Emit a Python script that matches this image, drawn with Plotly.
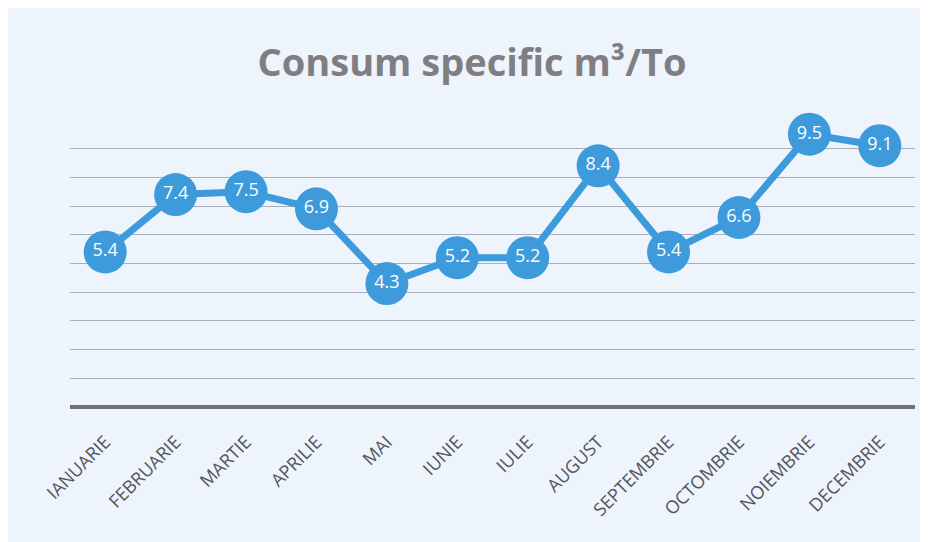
import plotly.graph_objects as go

months = ["IANUARIE", "FEBRUARIE", "MARTIE", "APRILIE", "MAI", "IUNIE", "IULIE",
          "AUGUST", "SEPTEMBRIE", "OCTOMBRIE", "NOIEMBRIE", "DECEMBRIE"]
values = [5.4, 7.4, 7.5, 6.9, 4.3, 5.2, 5.2, 8.4, 5.4, 6.6, 9.5, 9.1]
title_text = "Consum specific m³/To"

blue = "#3D9BDC"
font_fam = "Open Sans, Lato, sans-serif"

fig = go.Figure()
fig.add_trace(go.Scatter(
    x=months, y=values, mode="lines+markers+text",
    line=dict(color=blue, width=7),
    marker=dict(size=43, color=blue, line=dict(width=0)),
    text=[f"{v:.1f}" for v in values],
    textposition="middle center",
    textfont=dict(family=font_fam, size=18, color="white"),
    cliponaxis=False,
    hoverinfo="skip",
))

fig.update_layout(
    width=928, height=542,
    margin=dict(l=62, r=21, t=111, b=143),
    paper_bgcolor="#EEF4FB",
    plot_bgcolor="rgba(0,0,0,0)",
    showlegend=False,
    title=dict(text=title_text, x=0.5, xanchor="center", y=0.90, yanchor="middle",
               font=dict(family=font_fam, size=38, color="#7F7F83", weight="bold")),
    xaxis=dict(
        tickangle=-45, showgrid=False, zeroline=False, showline=False,
        ticks="", ticklen=0, ticklabelstandoff=20,
        tickfont=dict(family=font_fam, size=18, color="#55555B"),
        range=[-0.5, 11.5],
    ),
    yaxis=dict(
        range=[0, 10.03], dtick=1, showticklabels=False, ticks="",
        showgrid=True, gridcolor="#ABADBD", gridwidth=1.3,
        zeroline=True, zerolinecolor="#707070", zerolinewidth=3.5,
        showline=False,
    ),
)

fig.write_html("out.html")
